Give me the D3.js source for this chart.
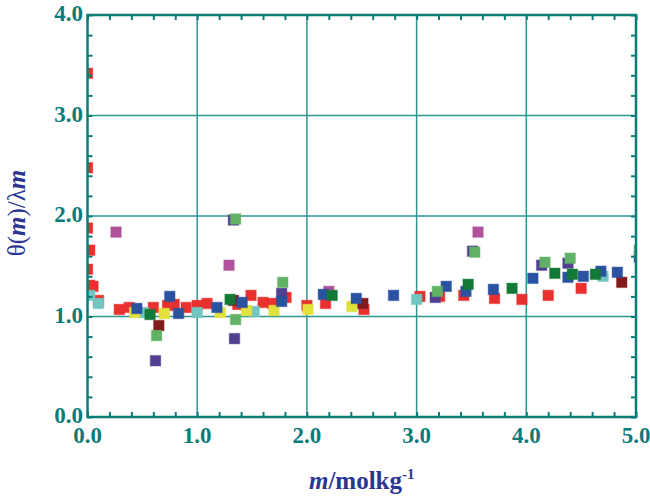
<!DOCTYPE html>
<html>
<head>
<meta charset="utf-8">
<script src="https://cdn.jsdelivr.net/npm/d3@7"></script>
<style>
  html, body { margin: 0; padding: 0; background: #ffffff; }
  svg { display: block; }
</style>
</head>
<body>
<div id="chart"></div>
<script>
// Axis extents and tick labels
const xDomain = [0, 5];
const yDomain = [0, 4];
const xTicks = [0, 1, 2, 3, 4, 5];
const yTicks = [0, 1, 2, 3, 4];
const xLabel = "m/molkg";
const yLabel = "θ(m)/λm";

// Series: [m, θ(m)/λm] pairs, one array per data set
const red = [[0.0,3.42],[0.0,2.48],[0.0,1.88],[0.02,1.66],[0.0,1.47],[0.02,1.31],[0.05,1.30],[0.10,1.16],
  [0.29,1.07],[0.38,1.09],[0.60,1.09],[0.73,1.11],[0.79,1.12],[0.90,1.09],[1.0,1.11],[1.09,1.13],
  [1.37,1.12],[1.49,1.21],[1.60,1.14],[1.69,1.13],[1.81,1.19],[2.0,1.11],[2.17,1.13],[2.52,1.07],
  [3.03,1.20],[3.21,1.20],[3.43,1.21],[3.71,1.18],[3.96,1.17],[4.20,1.21],[4.50,1.28]];
const cyan = [[0.02,1.21],[0.10,1.13],[0.51,1.04],[1.0,1.04],[1.52,1.05],[3.00,1.17],[4.70,1.40]];
const yellow = [[0.43,1.04],[0.70,1.03],[1.21,1.04],[1.45,1.06],[1.70,1.06],[2.01,1.07],[2.41,1.10]];
const magenta = [[0.26,1.84],[1.29,1.51],[2.20,1.25],[3.56,1.84]];
const purple = [[0.62,0.56],[1.33,1.96],[1.34,0.78],[1.77,1.23],[3.17,1.19],[3.51,1.65],[4.14,1.51],[4.38,1.53],[5.03,1.59]];
const darkRed = [[0.65,0.91],[1.33,1.16],[2.51,1.13],[4.87,1.34]];
const blue = [[0.45,1.08],[0.75,1.20],[0.83,1.03],[1.18,1.09],[1.41,1.14],[1.77,1.15],[2.15,1.22],[2.45,1.18],
  [2.79,1.21],[3.27,1.30],[3.45,1.25],[3.70,1.27],[4.06,1.38],[4.38,1.39],[4.52,1.40],[4.68,1.45],[4.83,1.44]];
const lightGreen = [[0.63,0.81],[1.35,1.97],[1.35,0.97],[1.78,1.34],[3.19,1.25],[3.53,1.64],[4.17,1.54],[4.40,1.58],[5.03,1.66]];
const darkGreen = [[0.57,1.02],[1.30,1.17],[2.23,1.21],[3.47,1.32],[3.87,1.28],[4.26,1.43],[4.42,1.42],[4.63,1.42]];

const series = [
  { data: red, color: "#e8302f" },
  { data: cyan, color: "#72c6c2" },
  { data: yellow, color: "#e2e03a" },
  { data: magenta, color: "#b0519c" },
  { data: purple, color: "#523f92" },
  { data: darkRed, color: "#821a1c" },
  { data: blue, color: "#2a52a0" },
  { data: lightGreen, color: "#62b266" },
  { data: darkGreen, color: "#127a36" }
];

const W = 650, H = 496;
const margin = { left: 87.5, right: 14, top: 15, bottom: 79 };
const teal = "#0a7c78";
const gridCol = "#2d9591";
const ink = "#2c3592";
const serif = "'Liberation Serif', 'Times New Roman', serif";

const svg = d3.select("#chart").append("svg").attr("width", W).attr("height", H);

const x = d3.scaleLinear().domain(xDomain).range([margin.left, W - margin.right]);
const y = d3.scaleLinear().domain(yDomain).range([H - margin.bottom, margin.top]);
const x0 = x.range()[0], x1 = x.range()[1], y0 = y.range()[0], y1 = y.range()[1];

// Grid lines at the interior major ticks
const grid = svg.append("g");
grid.selectAll("line.vx").data(xTicks.slice(1, -1)).enter().append("line")
  .attr("x1", d => x(d)).attr("x2", d => x(d)).attr("y1", y1).attr("y2", y0)
  .attr("stroke", gridCol).attr("stroke-width", 1.5);
grid.selectAll("line.hy").data(yTicks.slice(1, -1)).enter().append("line")
  .attr("y1", d => y(d)).attr("y2", d => y(d)).attr("x1", x0).attr("x2", x1)
  .attr("stroke", gridCol).attr("stroke-width", 1.5);

// Markers, clipped to the plotting frame
svg.append("clipPath").attr("id", "plot-clip").append("rect")
  .attr("x", x0).attr("y", y1).attr("width", x1 - x0).attr("height", y0 - y1);
const S = 10.5;
const pts = svg.append("g").attr("clip-path", "url(#plot-clip)");
series.forEach(s => {
  pts.selectAll(null).data(s.data).enter().append("rect")
    .attr("x", d => x(d[0]) - S / 2).attr("y", d => y(d[1]) - S / 2)
    .attr("width", S).attr("height", S)
    .attr("fill", s.color)
    .attr("stroke", s.color).attr("stroke-opacity", 0.35).attr("stroke-width", 1.2);
});

// Minor ticks every 0.2, pointing inward on all four sides
const minorX = d3.range(0, 5.001, 0.2);
const minorY = d3.range(0, 4.001, 0.2);
const tickLen = 5;
function styleAxis(g) {
  g.select(".domain").remove();
  g.selectAll(".tick line").attr("stroke", teal).attr("stroke-width", 2);
  g.selectAll("text").remove();
}
svg.append("g").attr("transform", `translate(0,${y0})`)
  .call(d3.axisBottom(x).tickValues(minorX).tickSize(-tickLen)).call(styleAxis);
svg.append("g").attr("transform", `translate(0,${y1})`)
  .call(d3.axisTop(x).tickValues(minorX).tickSize(-tickLen)).call(styleAxis);
svg.append("g").attr("transform", `translate(${x0},0)`)
  .call(d3.axisLeft(y).tickValues(minorY).tickSize(-tickLen)).call(styleAxis);
svg.append("g").attr("transform", `translate(${x1},0)`)
  .call(d3.axisRight(y).tickValues(minorY).tickSize(-tickLen)).call(styleAxis);

// Frame
svg.append("rect").attr("x", x0).attr("y", y1).attr("width", x1 - x0).attr("height", y0 - y1)
  .attr("fill", "none").attr("stroke", teal).attr("stroke-width", 2.5);

// Major tick labels
const fmt = d3.format(".1f");
svg.append("g").selectAll("text").data(xTicks).enter().append("text")
  .attr("x", d => x(d)).attr("y", y0 + 26)
  .attr("text-anchor", "middle")
  .attr("font-family", serif).attr("font-weight", "bold").attr("font-size", 23)
  .attr("fill", teal).text(fmt);
svg.append("g").selectAll("text").data(yTicks).enter().append("text")
  .attr("x", x0 - 4.5).attr("y", d => y(d) + 6)
  .attr("text-anchor", "end")
  .attr("font-family", serif).attr("font-weight", "bold").attr("font-size", 23)
  .attr("fill", teal).text(fmt);

// X axis title: m/molkg^-1
const xt = svg.append("text")
  .attr("x", (x0 + x1) / 2).attr("y", 489)
  .attr("text-anchor", "middle")
  .attr("font-family", serif).attr("font-weight", "bold").attr("font-size", 25)
  .attr("fill", ink);
xt.append("tspan").attr("font-style", "italic").text(xLabel.slice(0, 1));
xt.append("tspan").text(xLabel.slice(1));
xt.append("tspan").attr("dy", -10).attr("font-size", 15).text("-1");

// Y axis title: θ(m)/λm, rotated
const yt = svg.append("text")
  .attr("transform", `translate(25,${213}) rotate(-90)`)
  .attr("text-anchor", "middle")
  .attr("font-family", serif).attr("font-size", 25)
  .attr("fill", ink);
yt.append("tspan").text(yLabel.slice(0, 2));
yt.append("tspan").attr("font-style", "italic").attr("font-weight", "bold").text(yLabel.slice(2, 3));
yt.append("tspan").text(yLabel.slice(3, 6));
yt.append("tspan").attr("font-style", "italic").attr("font-weight", "bold").text(yLabel.slice(6));
</script>
</body>
</html>
